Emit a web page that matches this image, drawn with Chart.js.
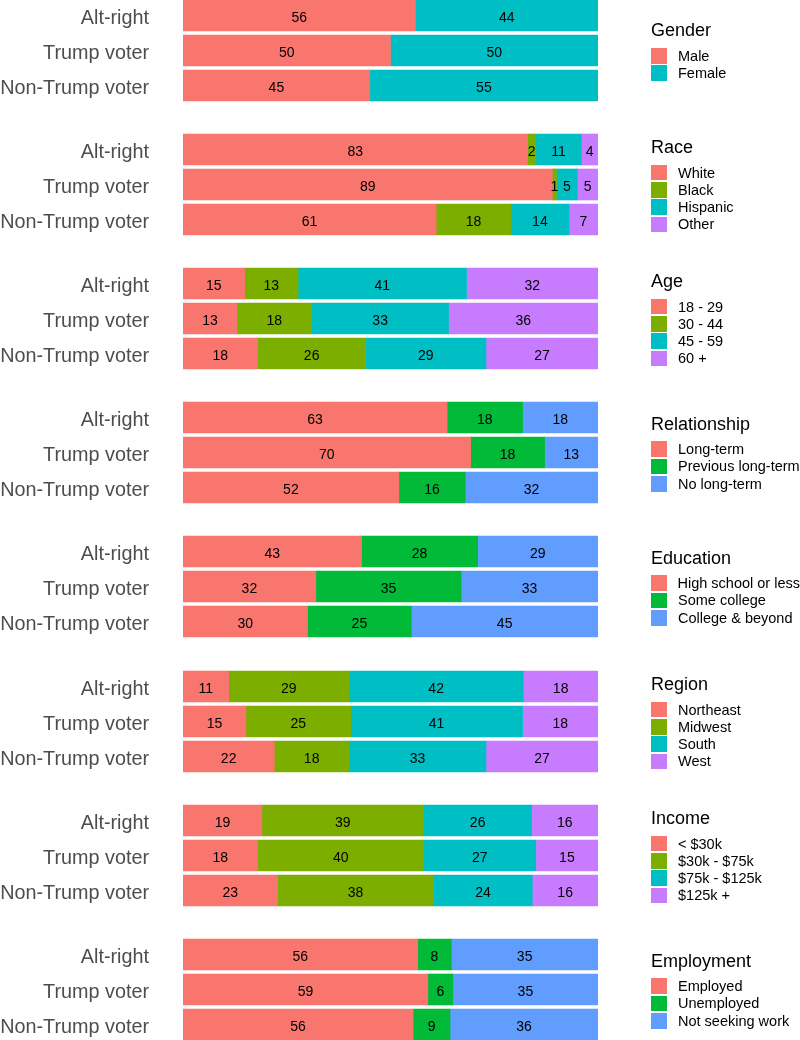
<!DOCTYPE html>
<html>
<head>
<meta charset="utf-8">
<script src="https://cdn.jsdelivr.net/npm/chart.js@4/dist/chart.umd.min.js"></script>
<style>
  body { margin: 0; background: #fff; font-family: "Liberation Sans", Arial, sans-serif; }
  #wrap { position: relative; width: 800px; height: 1040px; overflow: hidden; }
  .panel { position: absolute; left: 0; width: 800px; height: 105px; }
  .legend { position: absolute; left: 651px; width: 149px; height: 101px;
            display: flex; flex-direction: column; justify-content: center; }
  .legend .title { font-size: 18px; line-height: 22px; color: #000; margin-bottom: 6px; white-space: nowrap; }
  .legend .row { display: flex; align-items: center; height: 17.3px; }
  .legend .key { width: 16px; height: 15.5px; margin-right: 11px; }
  .legend .lab { font-size: 14.5px; color: #000; white-space: nowrap; }
</style>
</head>
<body>
<div id="wrap"></div>
<script>
const groups = ['Alt-right', 'Trump voter', 'Non-Trump voter'];

const red = '#F8766D', cyan = '#00BFC4', olive = '#7CAE00', purple = '#C77CFF';
const green = '#00BA38', blue = '#619CFF';

// Gender
const genderLabels = ['Male', 'Female'];
const genderMale = [56, 50, 45];
const genderFemale = [44, 50, 55];

// Race
const raceLabels = ['White', 'Black', 'Hispanic', 'Other'];
const raceWhite = [83, 89, 61];
const raceBlack = [2, 1, 18];
const raceHispanic = [11, 5, 14];
const raceOther = [4, 5, 7];

// Age
const ageLabels = ['18 - 29', '30 - 44', '45 - 59', '60 +'];
const age18 = [15, 13, 18];
const age30 = [13, 18, 26];
const age45 = [41, 33, 29];
const age60 = [32, 36, 27];

// Relationship
const relLabels = ['Long-term', 'Previous long-term', 'No long-term'];
const relLong = [63, 70, 52];
const relPrev = [18, 18, 16];
const relNone = [18, 13, 32];

// Education
const eduLabels = ['High school or less', 'Some college', 'College & beyond'];
const eduHigh = [43, 32, 30];
const eduSome = [28, 35, 25];
const eduCollege = [29, 33, 45];

// Region
const regionLabels = ['Northeast', 'Midwest', 'South', 'West'];
const regionNE = [11, 15, 22];
const regionMW = [29, 25, 18];
const regionSouth = [42, 41, 33];
const regionWest = [18, 18, 27];

// Income
const incomeLabels = ['< $30k', '$30k - $75k', '$75k - $125k', '$125k +'];
const income30 = [19, 18, 23];
const income75 = [39, 40, 38];
const income125 = [26, 27, 24];
const incomeTop = [16, 15, 16];

// Employment
const empLabels = ['Employed', 'Unemployed', 'Not seeking work'];
const empYes = [56, 59, 56];
const empNo = [8, 6, 9];
const empNotSeeking = [35, 35, 36];

const panels = [
    { title: 'Gender', labels: genderLabels, series: [genderMale, genderFemale], colors: [red, cyan] },
    { title: 'Race', labels: raceLabels, series: [raceWhite, raceBlack, raceHispanic, raceOther], colors: [red, olive, cyan, purple] },
    { title: 'Age', labels: ageLabels, series: [age18, age30, age45, age60], colors: [red, olive, cyan, purple] },
    { title: 'Relationship', labels: relLabels, series: [relLong, relPrev, relNone], colors: [red, green, blue] },
    { title: 'Education', labels: eduLabels, series: [eduHigh, eduSome, eduCollege], colors: [red, green, blue] },
    { title: 'Region', labels: regionLabels, series: [regionNE, regionMW, regionSouth, regionWest], colors: [red, olive, cyan, purple] },
    { title: 'Income', labels: incomeLabels, series: [income30, income75, income125, incomeTop], colors: [red, olive, cyan, purple] },
    { title: 'Employment', labels: empLabels, series: [empYes, empNo, empNotSeeking], colors: [red, green, blue] },
];

// draws the rounded percentage in the middle of each segment
const segmentLabels = {
    id: 'segmentLabels',
    afterDatasetsDraw(chart) {
        const ctx = chart.ctx;
        ctx.save();
        ctx.font = '14px "Liberation Sans", Arial, sans-serif';
        ctx.fillStyle = '#000';
        ctx.textAlign = 'center';
        ctx.textBaseline = 'middle';
        chart.data.datasets.forEach((ds, i) => {
            chart.getDatasetMeta(i).data.forEach((bar, j) => {
                const p = bar.getCenterPoint();
                ctx.fillText(ds.shown[j], p.x, p.y + 2.5);
            });
        });
        ctx.restore();
    }
};

const wrap = document.getElementById('wrap');
const pitch = 134.1;

panels.forEach((panel, k) => {
    const top = Math.round(k * pitch);

    const box = document.createElement('div');
    box.className = 'panel';
    box.style.top = (top - 2) + 'px';
    const canvas = document.createElement('canvas');
    canvas.width = 800;
    canvas.height = 105;
    box.appendChild(canvas);
    wrap.appendChild(box);

    // bars fill the full width, so each row is scaled to its own total
    const totals = groups.map((g, j) => panel.series.reduce((s, arr) => s + arr[j], 0));

    new Chart(canvas.getContext('2d'), {
        type: 'bar',
        data: {
            labels: groups,
            datasets: panel.series.map((arr, i) => ({
                label: panel.labels[i],
                data: arr.map((v, j) => v / totals[j] * 100),
                shown: arr,
                backgroundColor: panel.colors[i],
                borderWidth: 0,
                barThickness: 31,
            })),
        },
        options: {
            indexAxis: 'y',
            responsive: false,
            animation: false,
            layout: { padding: 0 },
            plugins: { legend: { display: false }, tooltip: { enabled: false } },
            scales: {
                x: { stacked: true, min: 0, max: 100, display: false,
                     afterFit: (scale) => { scale.paddingLeft = 0; scale.paddingRight = 202; } },
                y: {
                    stacked: true,
                    grid: { display: false, drawTicks: false },
                    border: { display: false },
                    ticks: {
                        color: '#4d4d4d',
                        padding: 34,
                        labelOffset: 3,
                        font: { family: '"Liberation Sans", Arial, sans-serif', size: 19.8 },
                    },
                    afterFit: (scale) => {
                        scale.width = 183;
                        scale.paddingTop = 0;
                        scale.paddingBottom = 0;
                    },
                },
            },
        },
        plugins: [segmentLabels],
    });

    const legend = document.createElement('div');
    legend.className = 'legend';
    legend.style.top = top + 'px';
    let html = `<div class="title">${panel.title}</div>`;
    panel.labels.forEach((lab, i) => {
        html += `<div class="row"><div class="key" style="background:${panel.colors[i]}"></div><div class="lab">${lab}</div></div>`;
    });
    legend.innerHTML = html;
    wrap.appendChild(legend);
});
</script>
</body>
</html>
